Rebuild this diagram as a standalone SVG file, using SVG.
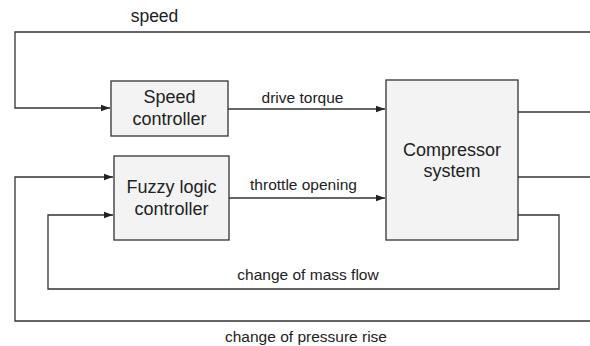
<svg xmlns="http://www.w3.org/2000/svg" width="590" height="346" viewBox="0 0 590 346">
<style>
.box{fill:#f2f3f2;stroke:#333;stroke-width:1.3}
.ln{fill:none;stroke:#333;stroke-width:1.3}
.bt{font-family:"Liberation Sans",Arial,sans-serif;font-size:18px;fill:#222;text-anchor:middle}
.lt{font-family:"Liberation Sans",Arial,sans-serif;font-size:15.5px;fill:#222;text-anchor:middle}
</style>
<defs>
<marker id="ah" markerWidth="10" markerHeight="8" refX="9" refY="4" orient="auto" markerUnits="userSpaceOnUse">
<path d="M0,0.8 L9,4 L0,7.2 Z" fill="#222"/>
</marker>
</defs>
<g id="connectors">
<polyline class="ln" points="590,32 15,32 15,108 110,108" marker-end="url(#ah)"/>
<line class="ln" x1="228" y1="109" x2="385" y2="109" marker-end="url(#ah)"/>
<line class="ln" x1="229" y1="198" x2="385" y2="198" marker-end="url(#ah)"/>
<line class="ln" x1="518" y1="112" x2="590" y2="112"/>
<line class="ln" x1="518" y1="177" x2="590" y2="177"/>
<polyline class="ln" points="518,215 559,215 559,289 48,289 48,215 113,215" marker-end="url(#ah)"/>
<polyline class="ln" points="590,321 15,321 15,177 113,177" marker-end="url(#ah)"/>
</g>
<g id="labels">
<text class="lt" x="154.5" y="22" style="font-size:17.5px">speed</text>
<text class="lt" x="302.5" y="103">drive torque</text>
<text class="lt" x="303.5" y="190">throttle opening</text>
<text class="lt" x="308" y="280">change of mass flow</text>
<text class="lt" x="306" y="342">change of pressure rise</text>
</g>
<g id="speed-controller">
<rect class="box" x="111" y="81" width="117" height="55"/>
<text class="bt" x="169.5" y="103">Speed</text>
<text class="bt" x="169.5" y="125">controller</text>
</g>
<g id="fuzzy-controller">
<rect class="box" x="114" y="156" width="115" height="84"/>
<text class="bt" x="171.5" y="193">Fuzzy logic</text>
<text class="bt" x="171.5" y="215">controller</text>
</g>
<g id="compressor-system">
<rect class="box" x="386" y="80" width="132" height="160"/>
<text class="bt" x="452" y="156">Compressor</text>
<text class="bt" x="452" y="177">system</text>
</g>
</svg>
